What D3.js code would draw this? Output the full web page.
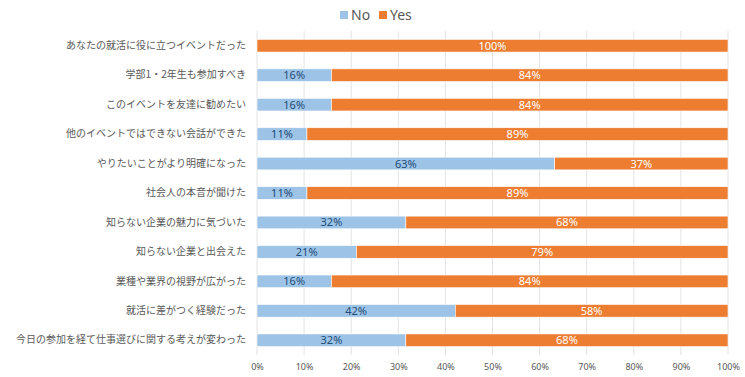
<!DOCTYPE html>
<html>
<head>
<meta charset="utf-8">
<script src="https://cdn.jsdelivr.net/npm/d3@7"></script>
<style>
  body { margin: 0; background: #fff; }
  text { font-family: "Noto Sans CJK JP", "Noto Sans", sans-serif; }
</style>
</head>
<body>
<div id="chart"></div>
<script>
// Data
const categories = [
  'あなたの就活に役に立つイベントだった',
  '学部1・2年生も参加すべき',
  'このイベントを友達に勧めたい',
  '他のイベントではできない会話ができた',
  'やりたいことがより明確になった',
  '社会人の本音が聞けた',
  '知らない企業の魅力に気づいた',
  '知らない企業と出会えた',
  '業種や業界の視野が広がった',
  '就活に差がつく経験だった',
  '今日の参加を経て仕事選びに関する考えが変わった'
];
const noValues  = [0, 15.8, 15.8, 10.6, 63.2, 10.6, 31.6, 21.1, 15.8, 42.1, 31.6];
const yesValues = [100, 84.2, 84.2, 89.4, 36.8, 89.4, 68.4, 78.9, 84.2, 57.9, 68.4];
const seriesNames = ['No', 'Yes'];
const xTicks = [0, 10, 20, 30, 40, 50, 60, 70, 80, 90, 100];

const colors = {No: '#9DC3E6', Yes: '#ED7D31'};
const labelColors = {No: '#1F4E79', Yes: '#ffffff'};

const width = 745, height = 377;
const margin = {top: 31, right: 17, bottom: 22, left: 257};
const w = width - margin.left - margin.right;
const h = height - margin.top - margin.bottom;

const svg = d3.select('#chart').append('svg')
  .attr('width', width)
  .attr('height', height);

const g = svg.append('g')
  .attr('transform', `translate(${margin.left},${margin.top})`);

const x = d3.scaleLinear().domain([0, 100]).range([0, w]);
const y = d3.scaleBand().domain(categories).range([0, h]).paddingInner(0.57).paddingOuter(0.285);

// Grid
g.append('g')
  .selectAll('line')
  .data(xTicks)
  .enter().append('line')
  .attr('x1', d => x(d)).attr('x2', d => x(d))
  .attr('y1', 0).attr('y2', h)
  .attr('stroke', '#e3e3e3')
  .attr('stroke-width', 1);

// X axis
const xAxis = g.append('g')
  .attr('transform', `translate(0,${h})`)
  .call(d3.axisBottom(x).tickValues(xTicks).tickFormat(d => d + '%').tickSize(0).tickPadding(9));
xAxis.select('.domain').remove();
xAxis.selectAll('text')
  .attr('fill', '#595959')
  .style('font-size', '9px')
  .style('font-family', '"Noto Sans", sans-serif');

// Y axis
const yAxis = g.append('g')
  .call(d3.axisLeft(y).tickSize(0).tickPadding(11));
yAxis.select('.domain').remove();
yAxis.selectAll('text')
  .attr('fill', '#595959')
  .style('font-size', '10px');

// Stacked bars
const rows = categories.map((c, i) => ({cat: c, No: noValues[i], Yes: yesValues[i]}));
const stack = d3.stack().keys(seriesNames)(rows);

const layers = g.selectAll('.layer')
  .data(stack)
  .enter().append('g')
  .attr('class', 'layer');

layers.selectAll('rect')
  .data(d => d.map(v => ({key: d.key, v})))
  .enter().append('rect')
  .attr('x', d => x(d.v[0]))
  .attr('y', d => y(d.v.data.cat))
  .attr('width', d => x(d.v[1]) - x(d.v[0]))
  .attr('height', y.bandwidth())
  .attr('fill', d => colors[d.key])
  .attr('stroke', '#ffffff')
  .attr('stroke-width', 0.6);

layers.selectAll('text')
  .data(d => d.map(v => ({key: d.key, v})).filter(d => d.v[1] - d.v[0] > 0))
  .enter().append('text')
  .attr('x', d => x((d.v[0] + d.v[1]) / 2))
  .attr('y', d => y(d.v.data.cat) + y.bandwidth() / 2)
  .attr('dy', '0.36em')
  .attr('text-anchor', 'middle')
  .attr('fill', d => labelColors[d.key])
  .style('font-size', '11px')
  .style('font-family', '"Noto Sans", sans-serif')
  .text(d => Math.round(d.v[1] - d.v[0]) + '%');

// Legend
const legend = svg.append('g').attr('transform', 'translate(340,15)');
const legendX = [0, 39];
seriesNames.forEach((s, i) => {
  const lg = legend.append('g').attr('transform', `translate(${legendX[i]},0)`);
  lg.append('rect').attr('x', 0).attr('y', -4).attr('width', 8).attr('height', 8).attr('fill', colors[s]);
  lg.append('text').attr('x', 11).attr('y', 0).attr('dy', '0.36em')
    .attr('fill', '#595959')
    .style('font-size', '14px')
    .style('font-family', '"Noto Sans", sans-serif')
    .text(s);
});
</script>
</body>
</html>
